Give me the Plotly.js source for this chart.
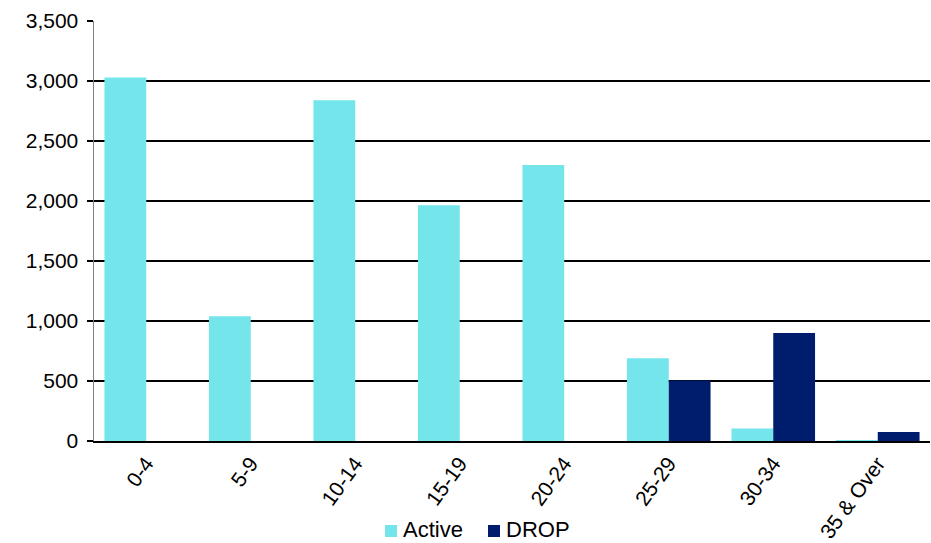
<!DOCTYPE html>
<html>
<head>
<meta charset="utf-8">
<script src="https://cdn.plot.ly/plotly-3.0.1.min.js"></script>
<style>
  html, body { margin: 0; padding: 0; background: #ffffff; }
  #chart { width: 931px; height: 543px; }
</style>
</head>
<body>
<div id="chart"></div>
<script>
// Age bands and member counts per status
const ageBands = ["0-4", "5-9", "10-14", "15-19", "20-24", "25-29", "30-34", "35 & Over"];
const activeCounts = [3030, 1040, 2840, 1965, 2300, 690, 105, 8];
const dropCounts = [0, 0, 0, 0, 0, 505, 900, 75];
const yTickValues = [0, 500, 1000, 1500, 2000, 2500, 3000, 3500];
const yTickLabels = ["0", "500", "1,000", "1,500", "2,000", "2,500", "3,000", "3,500"];

const fontFamily = "Liberation Sans, Arial, sans-serif";
const activeColor = "#73E5EB";
const dropColor = "#001C6C";

const traces = [
  {
    type: "bar",
    name: "Active",
    x: ageBands,
    y: activeCounts,
    marker: { color: activeColor },
    hoverinfo: "x+y+name"
  },
  {
    type: "bar",
    name: "DROP",
    x: ageBands,
    y: dropCounts,
    marker: { color: dropColor },
    hoverinfo: "x+y+name"
  }
];

// Plot area in pixels, used to place the legend keys below the axis
const W = 931, H = 543;
const M = { l: 94, r: 1, t: 21, b: 102 };
const plotW = W - M.l - M.r, plotH = H - M.t - M.b;
const px = v => (v - M.l) / plotW;
const py = v => (H - M.b - v) / plotH;

// Compact legend: swatch + label for each series
const legendItems = [
  { name: traces[0].name, color: activeColor, swatchX: 385, textX: 401 },
  { name: traces[1].name, color: dropColor, swatchX: 488, textX: 504 }
];
const legendShapes = legendItems.map(it => ({
  type: "rect", xref: "paper", yref: "paper",
  x0: px(it.swatchX), x1: px(it.swatchX + 12),
  y0: py(537), y1: py(525),
  fillcolor: it.color, line: { width: 0 }
}));
const legendLabels = legendItems.map(it => ({
  xref: "paper", yref: "paper",
  x: px(it.textX), y: py(529),
  xanchor: "left", yanchor: "middle",
  text: it.name, showarrow: false,
  font: { family: fontFamily, size: 22, color: "#000000" }
}));

const layout = {
  width: W,
  height: H,
  margin: M,
  paper_bgcolor: "#ffffff",
  plot_bgcolor: "#ffffff",
  font: { family: fontFamily, size: 20, color: "#000000" },
  barmode: "group",
  bargap: 0.2,
  bargroupgap: 0,
  showlegend: false,
  shapes: legendShapes,
  annotations: legendLabels,
  xaxis: {
    type: "category",
    tickangle: -54,
    ticks: "",
    showgrid: false,
    showline: true,
    linecolor: "#000000",
    linewidth: 2,
    zeroline: false,
    automargin: false,
    tickfont: { family: fontFamily, size: 21, color: "#000000" },
    fixedrange: true
  },
  yaxis: {
    range: [0, 3500],
    tickvals: yTickValues,
    ticktext: yTickLabels,
    ticks: "outside",
    ticklen: 6,
    tickwidth: 1.5,
    tickcolor: "#000000",
    showline: true,
    linecolor: "#808080",
    linewidth: 1.5,
    showgrid: true,
    gridcolor: "#000000",
    gridwidth: 1.5,
    zeroline: false,
    automargin: false,
    ticklabelstandoff: 4,
    tickfont: { family: fontFamily, size: 21, color: "#000000" },
    fixedrange: true
  }
};

Plotly.newPlot("chart", traces, layout, { displayModeBar: false, staticPlot: true });
</script>
</body>
</html>
